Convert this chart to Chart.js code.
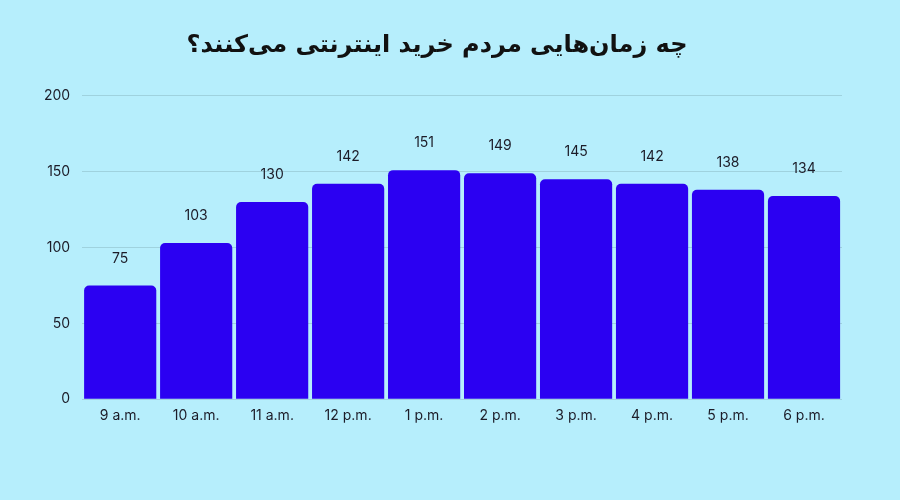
<!DOCTYPE html>
<html>
<head>
<meta charset="utf-8">
<script src="https://cdn.jsdelivr.net/npm/chart.js@4.4.2/dist/chart.umd.min.js"></script>
<style>
  html, body { margin: 0; padding: 0; background: #b6eefc; }
  #wrap { width: 900px; height: 500px; }
</style>
</head>
<body>
<div id="wrap"><canvas id="chart" width="900" height="500"></canvas></div>
<script>
const titleText = 'چه زمان‌هایی مردم خرید اینترنتی می‌کنند؟';
const hours = ['9 a.m.', '10 a.m.', '11 a.m.', '12 p.m.', '1 p.m.', '2 p.m.', '3 p.m.', '4 p.m.', '5 p.m.', '6 p.m.'];
const shoppers = [75, 103, 130, 142, 151, 149, 145, 142, 138, 134];
const yTicks = [0, 50, 100, 150, 200];

const textColor = '#1c1c28';

// numbers over each bar
const valueLabels = {
  id: 'valueLabels',
  afterDatasetsDraw(chart) {
    const ctx = chart.ctx;
    const meta = chart.getDatasetMeta(0);
    ctx.save();
    ctx.font = '14px Inter, "Liberation Sans", sans-serif';
    ctx.fillStyle = textColor;
    ctx.textAlign = 'center';
    ctx.textBaseline = 'middle';
    meta.data.forEach((bar, i) => {
      ctx.fillText(String(shoppers[i]), bar.x, bar.y - 27);
    });
    ctx.restore();
  }
};

const chart = new Chart(document.getElementById('chart'), {
  type: 'bar',
  data: {
    labels: hours,
    datasets: [{
      data: shoppers,
      backgroundColor: '#2b00f2',
      borderRadius: 5,
      barPercentage: 0.95,
      categoryPercentage: 1.0
    }]
  },
  options: {
    responsive: false,
    animation: false,
    devicePixelRatio: 1,
    layout: {
      padding: { left: 32, right: 58, top: 0, bottom: 76 }
    },
    plugins: {
      legend: { display: false },
      tooltip: { enabled: false },
      title: {
        display: true,
        text: titleText,
        color: '#111111',
        font: { family: '"DejaVu Sans", sans-serif', size: 24, weight: 'bold' },
        padding: { top: 31, bottom: 36 }
      }
    },
    scales: {
      x: {
        grid: { display: false },
        border: { display: false },
        ticks: {
          color: textColor,
          padding: 0,
          font: { family: 'Inter, "Liberation Sans", sans-serif', size: 14 }
        }
      },
      y: {
        min: 0,
        max: 200,
        afterBuildTicks(axis) {
          axis.ticks = yTicks.map(v => ({ value: v }));
        },
        grid: { color: '#9fd2de', drawTicks: false, lineWidth: 1 },
        border: { display: false },
        ticks: {
          color: textColor,
          padding: 12,
          font: { family: 'Inter, "Liberation Sans", sans-serif', size: 14 }
        }
      }
    }
  },
  plugins: [valueLabels]
});
</script>
</body>
</html>
